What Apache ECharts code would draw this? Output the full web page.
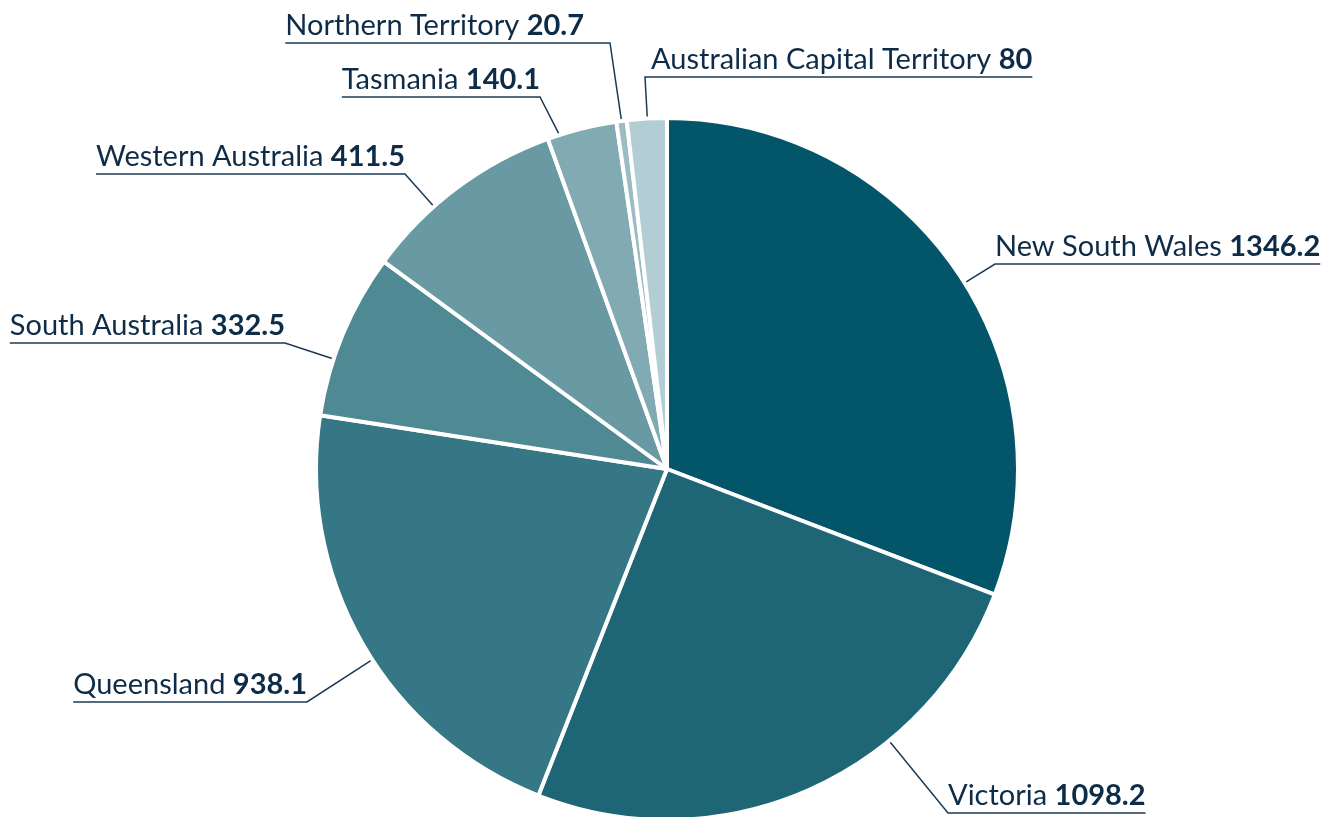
<!DOCTYPE html>
<html>
<head>
<meta charset="utf-8">
<script src="https://cdn.jsdelivr.net/npm/echarts@6/dist/echarts.min.js"></script>
<style>
  html, body { margin: 0; padding: 0; background: #fff; }
  #pieChart { width: 1330px; height: 817px; }
</style>
</head>
<body>
<div id="pieChart"></div>
<script>
// data
var states = ['New South Wales', 'Victoria', 'Queensland', 'South Australia',
              'Western Australia', 'Tasmania', 'Northern Territory', 'Australian Capital Territory']
var values = [1346.2, 1098.2, 938.1, 332.5, 411.5, 140.1, 20.7, 80]

var colors = ['#03566A', '#1E6676', '#357785', '#4F8994', '#699AA4', '#82AAB3', '#9BBCC3', '#B2CDD3']

// where each label's leader line bends, side of the label, gap between bend and text
var bends = [
    [995, 264, 'right', 0],
    [948, 813, 'right', 0],
    [307, 702, 'left', 0],
    [285, 343, 'left', 0],
    [405, 174, 'left', 0],
    [540, 97, 'left', 0],
    [610, 43, 'left', 26],
    [645, 77, 'right', 6]
]

var cx = 667, cy = 469, radius = 351

var total = 0
for (let i = 0; i < values.length; i++) total += values[i]
var startDeg = []
var acc = 0
for (let i = 0; i < values.length; i++) {
    startDeg.push(acc / total * 360)
    acc += values[i]
}

function edgePoint(idx, bx, by) {
    // angle clockwise from 12 o'clock toward the bend, clamped to the slice
    var a = Math.atan2(bx - cx, -(by - cy)) * 180 / Math.PI
    if (a < 0) a += 360
    var s = startDeg[idx], e = s + values[idx] / total * 360
    var pad = Math.min(2, (e - s) / 2)
    a = Math.max(s + pad, Math.min(e - pad, a))
    var r = a * Math.PI / 180
    return [cx + radius * Math.sin(r), cy - radius * Math.cos(r)]
}

var seriesData = []
for (let i = 0; i < states.length; i++) {
    seriesData.push({ name: states[i], value: values[i], itemStyle: { color: colors[i] } })
}

var option = {
    animation: false,
    series: [
        {
            type: 'pie',
            center: [cx, cy],
            radius: radius,
            startAngle: 90,
            clockwise: true,
            avoidLabelOverlap: false,
            itemStyle: {
                borderColor: '#ffffff',
                borderWidth: 4
            },
            label: {
                show: true,
                position: 'outside',
                color: '#0E2C47',
                fontFamily: 'Lato',
                fontSize: 29,
                formatter: function (p) {
                    return '{n|' + p.name + ' }{v|' + p.value + '}'
                },
                rich: {
                    n: { fontFamily: 'Lato', fontSize: 29, color: '#0E2C47' },
                    v: { fontFamily: 'Lato', fontSize: 29, fontWeight: 'bold', color: '#0E2C47' }
                }
            },
            labelLine: {
                show: true,
                length: 20,
                length2: 0,
                lineStyle: { color: '#1B3A55', width: 1.5 }
            },
            labelLayout: function (params) {
                var b = bends[params.dataIndex]
                var w = params.labelRect.width
                var p0 = edgePoint(params.dataIndex, b[0], b[1])
                var isRight = b[2] == 'right'
                var tx = isRight ? b[0] + b[3] : b[0] - b[3]
                var endX = isRight ? tx + w : tx - w
                return {
                    x: tx,
                    y: b[1] - 3,
                    align: isRight ? 'left' : 'right',
                    verticalAlign: 'bottom',
                    labelLinePoints: [p0, [b[0], b[1]], [endX, b[1]]]
                }
            },
            data: seriesData
        }
    ]
}

var myChart = echarts.init(document.getElementById('pieChart'))
myChart.setOption(option)
</script>
</body>
</html>
